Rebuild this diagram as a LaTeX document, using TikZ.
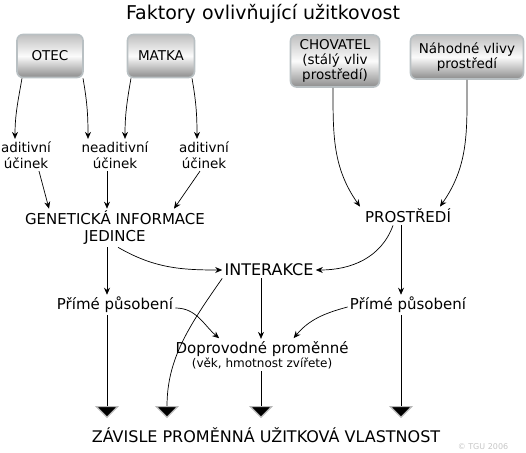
\documentclass[tikz,border=0pt]{standalone}
\usepackage{fontspec}
\setmainfont{DejaVu Sans}
\usetikzlibrary{arrows, arrows.meta, positioning}
\tikzset{
    >={Stealth[length=7pt, width=6pt]}, % arrow heads of the thin connectors
    every path/.style={line width=0.7pt},
    box/.style={rectangle, rounded corners=6pt, draw={rgb,255:red,185;green,192;blue,195}, line width=1.6pt, top color=gray!50, bottom color=gray!90, middle color=gray!3, align=center, font=\fontsize{13.5}{15}\selectfont, inner sep=2pt}, % the grey boxes at the top
    lbl/.style={align=center, font=\fontsize{15}{17}\selectfont, inner sep=2pt}, % plain text nodes
    eff/.style={lbl, font=\fontsize{13.5}{16.5}\selectfont}, % the effect labels
    bold/.style={lbl, font=\fontsize{16}{19}\selectfont}, % the larger labels
    big/.style={-{Triangle[width=24pt,length=12pt,fill=black,color=gray!55,line width=1.2pt]}}, % large arrow heads at the bottom
}

\begin{document}
\begin{tikzpicture}[x=1pt, y=1pt]
\useasboundingbox (0,0) rectangle (526,-452);
\node[font=\fontsize{19}{22}\selectfont] (title) at (263,-14) {Faktory ovlivňující užitkovost};
% boxes
\node[box, minimum width=66pt, minimum height=43pt] (otec) at (50,-56) {OTEC};
\node[box, minimum width=67pt, minimum height=43pt] (matka) at (161,-56) {MATKA};
\node[box, minimum width=89pt, minimum height=52pt] (chov) at (335,-61) {CHOVATEL\\(stálý vliv\\prostředí)};
\node[box, minimum width=113pt, minimum height=44pt] (nahod) at (467,-57) {Náhodné vlivy\\prostředí};
% effects
\node[eff] (adL) at (26,-155) {aditivní\\účinek};
\node[eff] (nead) at (115,-155) {neaditivní\\účinek};
\node[eff] (adR) at (204,-155) {aditivní\\účinek};
\node[lbl] (gen) at (115,-228) {GENETICKÁ INFORMACE\\JEDINCE};
\node[lbl] (pros) at (408,-216) {PROSTŘEDÍ};
\node[bold] (inter) at (269,-270) {INTERAKCE};
\node[lbl] (primL) at (115,-305) {Přímé působení};
\node[lbl] (primR) at (408,-305) {Přímé působení};
\node[lbl] (dopr) at (262,-355) {Doprovodné proměnné\\[-3pt]{\fontsize{12}{14}\selectfont(věk, hmotnost zvířete)}};
\node[bold] (zav) at (266,-435) {ZÁVISLE PROMĚNNÁ UŽITKOVÁ VLASTNOST};
\node[font=\fontsize{8}{9}\selectfont, text=gray!45] (copy) at (483,-447) {© TGU 2006};
% ends of the big arrows
\coordinate (t1) at (107,-418);
\coordinate (t2) at (167,-418);
\coordinate (t3) at (261,-418);
\coordinate (t4) at (401,-418);
\path[->]
(otec.south -| 22,0) edge[out=-100, in=90] (adL.north -| 15,0)
(otec.south -| 83,0) edge[out=-80, in=90] (nead.north -| 88,0)
(matka.south -| 131,0) edge[out=-100, in=90] (nead.north -| 125,0)
(matka.south -| 192,0) edge[out=-80, in=90] (adR.north -| 197,0)
(adL.south -| 39,0) edge (gen.north -| 49,0)
(nead.south -| 107,0) edge (gen.north -| 107,0)
(adR.south -| 200,0) edge (gen.north -| 174,0)
(chov.south -| 333,0) edge[out=-90, in=125] (pros.north -| 360,0)
(nahod.south -| 467,0) edge[out=-90, in=55] (pros.north -| 440,0)
(gen.south -| 118,0) edge[out=-30, in=180] (inter.west)
(pros.south -| 393,0) edge[out=-110, in=0] (inter.east)
(gen.south -| 107,0) edge (primL.north -| 107,0)
(pros.south -| 401,0) edge (primR.north -| 401,0)
(inter.south -| 261,0) edge (dopr.north -| 261,0)
;
\draw[->, shorten >=1pt] ([yshift=-3pt]primL.east) to[out=0, in=140] (dopr.north -| 220,0);
\draw[->, shorten >=1pt] ([yshift=-2pt]primR.west) to[out=195, in=50] (dopr.north -| 293,0);
\draw[big] (primL.south -| 107,0) -- (t1);
\draw[big] (inter.south west) to[out=-125, in=90] (t2);
\draw[big] (dopr.south -| 261,0) -- (t3);
\draw[big] (primR.south -| 401,0) -- (t4);
\end{tikzpicture}
\end{document}
